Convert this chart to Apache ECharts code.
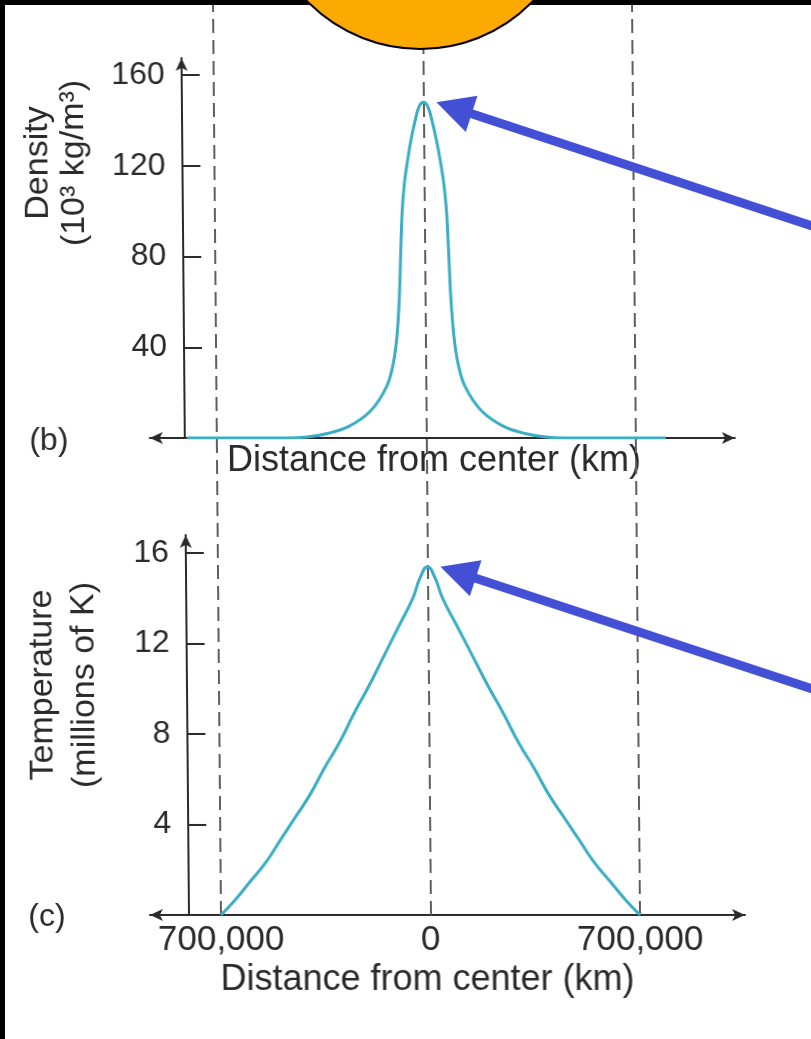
<!DOCTYPE html>
<html>
<head>
<meta charset="utf-8">
<script src="https://cdn.jsdelivr.net/npm/echarts@6/dist/echarts.min.js"></script>
<style>
  html, body { margin: 0; padding: 0; background: #000; width: 811px; height: 1039px; overflow: hidden; }
  #paper { position: absolute; left: 5px; top: 5px; width: 806px; height: 1034px; background: #fff; }
  #chart { position: absolute; left: 0; top: 0; width: 811px; height: 1039px;
           transform: skewX(0.5deg); transform-origin: 0 0; }
</style>
</head>
<body>
<div id="paper"></div>
<div id="chart"></div>
<script>
// Density and temperature inside the Sun, plotted against distance from its centre.
const densityKm = [-800000, -600000, -460000, -400000, -330000, -260000, -185000, -130000, -108000, -95000, -86000, -80000, -74000, -66000, -55000, -43000, -28000, -15000, 0,
                   15000, 28000, 43000, 55000, 66000, 74000, 80000, 86000, 95000, 108000, 130000, 185000, 260000, 330000, 400000, 460000, 600000, 800000];
const densityValues = [0, 0, 0, 0.4, 2, 5, 12, 23, 33, 45, 62, 82, 100, 112, 122, 131, 140, 146, 148,
                       146, 140, 131, 122, 112, 100, 82, 62, 45, 33, 23, 12, 5, 2, 0.4, 0, 0, 0];

const temperatureKm = [-700000, -650000, -600000, -550000, -500000, -450000, -400000, -350000, -300000, -250000, -200000, -150000, -100000, -50000, -25000, 0,
                       25000, 50000, 100000, 150000, 200000, 250000, 300000, 350000, 400000, 450000, 500000, 550000, 600000, 650000, 700000];
const temperatureValues = [0, 0.7, 1.5, 2.3, 3.3, 4.3, 5.3, 6.5, 7.6, 8.9, 10.1, 11.4, 12.7, 14.0, 14.9, 15.4,
                           14.9, 14.0, 12.7, 11.4, 10.1, 8.9, 7.6, 6.5, 5.3, 4.3, 3.3, 2.3, 1.5, 0.7, 0];

const guideKm = [-700000, 0, 700000];          // dashed guides: centre and surface
const distanceTicks = [-700000, 0, 700000];
const densityTickStep = 40;
const temperatureTickStep = 4;

const densityTitle = 'Density\n(10³ kg/m³)';
const temperatureTitle = 'Temperature\n(millions of K)';
const distanceTitle = 'Distance from center (km)';

// ---- layout ----
const FONT = '"Liberation Sans", Arial, Helvetica, sans-serif';
const INK = '#2a2a2a';
const CURVE = '#3aaec3';
const CENTER_X = 422.5;                 // pixel of 0 km
const PX_PER_KM = 209.5 / 700000;
const kmAt = px => (px - CENTER_X) / PX_PER_KM;
const H = 1039, W = 811;

const chart = echarts.init(document.getElementById('chart'), null, { renderer: 'canvas' });

function yAxisCommon(offset) {
  return {
    type: 'value', min: 0, position: 'left', offset: offset,
    splitLine: { show: false },
    axisLine: { show: true, onZero: false, symbol: ['none', 'arrow'], symbolSize: [9, 13],
                lineStyle: { color: INK, width: 2 } },
    axisTick: { show: true, inside: true, length: 18, lineStyle: { color: INK, width: 2 } },
    axisLabel: { color: INK, fontFamily: FONT, fontSize: 32, margin: 17,
                 formatter: v => (v === 0 ? '' : String(v)) }
  };
}
function xAxisCommon(left, right) {
  return {
    type: 'value', min: kmAt(left), max: kmAt(W - right),
    splitLine: { show: false },
    axisLine: { show: true, onZero: false, symbol: ['arrow', 'arrow'], symbolSize: [9, 13],
                lineStyle: { color: INK, width: 2 } },
    axisTick: { show: false },
    nameLocation: 'middle',
    nameTextStyle: { color: INK, fontFamily: FONT, fontSize: 36 }
  };
}

const gridB = { left: 146, right: 80, top: 58, bottom: H - 438 };
const gridC = { left: 142, right: 74, top: 535, bottom: H - 915 };
const gridGuide = { left: 146, right: 80, top: 5, bottom: H - 915 };

const xB = xAxisCommon(gridB.left, gridB.right);
Object.assign(xB, { gridIndex: 0, name: distanceTitle, nameGap: 5, axisLabel: { show: false } });
xB.nameTextStyle.padding = [0, 17, 0, 0];

const xC = xAxisCommon(gridC.left, gridC.right);
Object.assign(xC, {
  gridIndex: 1, name: distanceTitle, nameGap: 47,
  axisLabel: { show: true, customValues: distanceTicks, color: INK, fontFamily: FONT, fontSize: 35, margin: 8,
               formatter: v => Math.abs(v).toLocaleString('en-US') }
});
xC.nameTextStyle.padding = [0, 41, 0, 0];

const yB = yAxisCommon(-(181 - gridB.left));
Object.assign(yB, { gridIndex: 0, max: 167.5, interval: densityTickStep });
const yC = yAxisCommon(-(181 - gridC.left));
Object.assign(yC, { gridIndex: 1, max: 16.8, interval: temperatureTickStep });

const option = {
  animation: false,
  backgroundColor: 'transparent',
  textStyle: { fontFamily: FONT },
  grid: [gridB, gridC, gridGuide],
  xAxis: [xB, xC,
          { gridIndex: 2, type: 'value', min: kmAt(gridGuide.left), max: kmAt(W - gridGuide.right), show: false }],
  yAxis: [yB, yC, { gridIndex: 2, type: 'value', min: 0, max: 1, show: false }],
  series: [
    {
      type: 'line', xAxisIndex: 2, yAxisIndex: 2, data: [], silent: true, z: 1,
      markLine: {
        silent: true, symbol: 'none', label: { show: false }, animation: false,
        lineStyle: { color: '#5e5e5e', width: 2, type: [14, 7] },
        data: guideKm.map(v => ({ xAxis: v }))
      }
    },
    {
      name: 'Density', type: 'line', xAxisIndex: 0, yAxisIndex: 0, z: 5,
      data: densityKm.map((x, i) => [x, densityValues[i]]),
      showSymbol: false, smooth: 0.35,
      lineStyle: { color: CURVE, width: 3 }
    },
    {
      name: 'Temperature', type: 'line', xAxisIndex: 1, yAxisIndex: 1, z: 5,
      data: temperatureKm.map((x, i) => [x, temperatureValues[i]]),
      showSymbol: false, smooth: 0.5,
      lineStyle: { color: CURVE, width: 3 }
    }
  ],
  graphic: [
    { type: 'text', id: 'densTitle', x: 55, y: 163, rotation: Math.PI / 2, z: 10,
      style: { text: densityTitle, font: '34px ' + FONT, fill: INK, align: 'center', verticalAlign: 'middle',
               textAlign: 'center', textVerticalAlign: 'middle', lineHeight: 36 } },
    { type: 'text', id: 'tempTitle', x: 58, y: 685, rotation: Math.PI / 2, z: 10,
      style: { text: temperatureTitle, font: '34px ' + FONT, fill: INK, align: 'center', verticalAlign: 'middle',
               textAlign: 'center', textVerticalAlign: 'middle', lineHeight: 42 } },
    { type: 'text', id: 'panelB', x: 45, y: 441, z: 10,
      style: { text: '(b)', font: '32px ' + FONT, fill: INK, align: 'center', verticalAlign: 'middle',
               textAlign: 'center', textVerticalAlign: 'middle' } },
    { type: 'text', id: 'panelC', x: 39, y: 917, z: 10,
      style: { text: '(c)', font: '32px ' + FONT, fill: INK, align: 'center', verticalAlign: 'middle',
               textAlign: 'center', textVerticalAlign: 'middle' } },
    { type: 'circle', id: 'sun', z: 50, shape: { cx: 420, cy: -108, r: 157 },
      style: { fill: '#FDAA00', stroke: '#000', lineWidth: 2 } }
  ]
};
chart.setOption(option);

// Pointer arrows aimed at the central peak of each profile
function arrowAt(gridIndex, km, value, id) {
  const p = chart.convertToPixel({ gridIndex: gridIndex }, [km, value]);
  const tip = [p[0] + 13, p[1]];
  const ang = Math.atan(0.33);
  const d = [Math.cos(ang), Math.sin(ang)];
  const n = [-d[1], d[0]];
  const headLen = 37, headHalf = 19;
  const base = [tip[0] + d[0] * headLen, tip[1] + d[1] * headLen];
  return [
    { type: 'line', id: id + 'Shaft', z: 60,
      shape: { x1: base[0] - d[0] * 4, y1: base[1] - d[1] * 4, x2: tip[0] + d[0] * 600, y2: tip[1] + d[1] * 600 },
      style: { stroke: '#4350d6', lineWidth: 9 } },
    { type: 'polygon', id: id + 'Head', z: 60,
      shape: { points: [tip, [base[0] + n[0] * headHalf, base[1] + n[1] * headHalf], [base[0] - n[0] * headHalf, base[1] - n[1] * headHalf]] },
      style: { fill: '#4350d6' } }
  ];
}
const iD = densityValues.indexOf(Math.max(...densityValues));
const iT = temperatureValues.indexOf(Math.max(...temperatureValues));
chart.setOption({
  graphic: [].concat(
    arrowAt(0, densityKm[iD], densityValues[iD], 'densArrow'),
    arrowAt(1, temperatureKm[iT], temperatureValues[iT], 'tempArrow')
  )
});
</script>
</body>
</html>
